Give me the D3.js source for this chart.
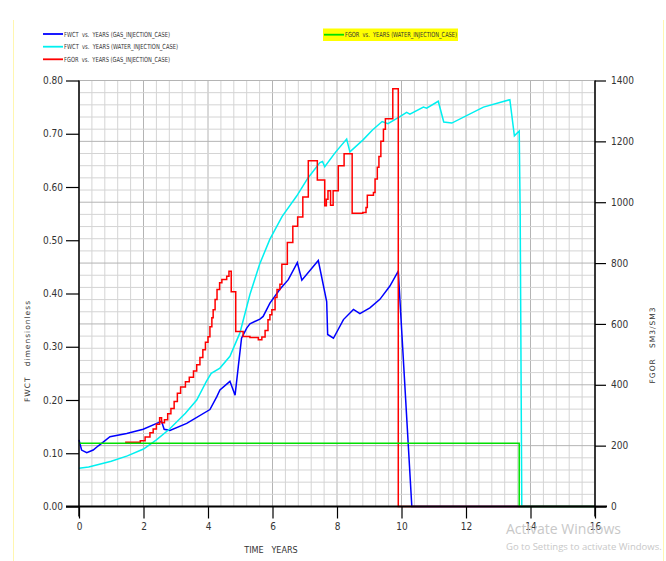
<!DOCTYPE html>
<html>
<head>
<meta charset="utf-8">
<script src="https://cdn.jsdelivr.net/npm/d3@7"></script>
<style>
  body { margin: 0; background: #ffffff; }
  svg { display: block; }
  .tick text { font-family: "Liberation Sans Narrow", "DejaVu Sans Condensed", "Liberation Sans", sans-serif; font-stretch: condensed; }
</style>
</head>
<body>
<svg width="666" height="561"></svg>
<script>
// FWCT vs years, gas injection case (left axis)
var fwctGas = [[0,0.125],[0.08,0.106],[0.24,0.101],[0.44,0.106],[0.6,0.114],[0.75,0.121],[0.96,0.131],[1.48,0.137],
  [1.99,0.145],[2.41,0.156],[2.56,0.160],[2.64,0.145],[2.82,0.143],[3.34,0.156],[4.06,0.182],[4.27,0.206],
  [4.37,0.219],[4.68,0.235],[4.84,0.209],[4.94,0.263],[5.04,0.316],[5.2,0.335],[5.3,0.343],[5.61,0.352],
  [5.71,0.357],[5.92,0.382],[6.23,0.408],[6.49,0.426],[6.77,0.458],[6.91,0.425],[7.42,0.462],[7.68,0.385],
  [7.71,0.323],[7.89,0.316],[8.2,0.351],[8.51,0.370],[8.71,0.362],[9.02,0.373],[9.33,0.389],[9.64,0.414],
  [9.9,0.442],[10.32,0],[16,0]];

// FWCT vs years, water injection case (left axis)
var fwctWater = [[0,0.072],[0.3,0.074],[1.0,0.085],[1.5,0.095],[2.0,0.108],[2.4,0.125],[2.8,0.145],
  [3.3,0.175],[3.65,0.200],[3.95,0.235],[4.1,0.250],[4.37,0.260],[4.68,0.282],[4.99,0.326],[5.3,0.398],
  [5.6,0.455],[5.92,0.502],[6.3,0.545],[6.75,0.583],[7.1,0.617],[7.47,0.646],[7.55,0.648],[7.62,0.638],
  [7.95,0.665],[8.3,0.69],[8.4,0.666],[8.8,0.688],[9.1,0.707],[9.4,0.723],[9.58,0.719],
  [9.95,0.732],[10.16,0.740],[10.26,0.737],[10.68,0.750],[10.78,0.748],[11.14,0.761],[11.31,0.722],
  [11.56,0.720],[12.54,0.750],[13.36,0.764],[13.5,0.696],[13.65,0.705],[13.68,0.55],[13.73,0],[16,0]];

// FGOR vs years, gas injection case (right axis, step data)
var fgorGas = [[1.43,211],[1.9,216],[2.05,228],[2.2,242],[2.3,255],[2.4,270],[2.5,292],[2.56,275],
  [2.65,285],[2.75,305],[2.85,322],[2.95,345],[3.05,372],[3.15,393],[3.3,410],[3.42,425],[3.55,445],
  [3.65,466],[3.75,490],[3.84,515],[3.92,540],[4.0,558],[4.06,591],[4.12,620],[4.16,647],[4.22,680],
  [4.28,713],[4.36,735],[4.43,746],[4.58,757],[4.65,773],[4.72,706],[4.86,575],[5.09,559],[5.3,555],
  [5.56,548],[5.67,557],[5.77,578],[5.86,614],[5.92,630],[5.98,647],[6.08,687],[6.14,713],[6.23,730],
  [6.29,796],[6.46,868],[6.63,921],[6.78,951],[6.94,1017],[7.11,1136],[7.39,1073],[7.62,988],[7.67,1010],
  [7.72,1038],[7.8,990],[7.88,1038],[8.04,1120],[8.22,1159],[8.47,964],[8.8,966],[8.9,983],[8.94,1023],
  [9.13,1032],[9.18,1076],[9.25,1115],[9.3,1150],[9.36,1200],[9.44,1240],[9.5,1274],[9.73,1373],
  [9.9,0],[16,0]];

// FGOR vs years, water injection case (right axis)
var fgorWater = [[0,208],[13.65,208],[13.65,0],[16,0]];

var xTicks = [0, 2, 4, 6, 8, 10, 12, 14, 16];
var leftTicks = [0, 0.1, 0.2, 0.3, 0.4, 0.5, 0.6, 0.7, 0.8];
var rightTicks = [0, 200, 400, 600, 800, 1000, 1200, 1400];

var legendNames = ["FWCT  vs.  YEARS (GAS_INJECTION_CASE)", "FWCT  vs.  YEARS (WATER_INJECTION_CASE)",
  "FGOR  vs.  YEARS (GAS_INJECTION_CASE)", "FGOR  vs.  YEARS (WATER_INJECTION_CASE)"];

var color = { blue: "#0000ff", cyan: "#00f0f0", red: "#ff0000", green: "#00e000", grid: "#d4d4d4", gridDark: "#b4b4b4" };
var narrow = "'Liberation Sans Narrow', 'DejaVu Sans Condensed', 'Liberation Sans', sans-serif";

// plot box (window.top is reserved, so no bare "top")
var padL = 79, padR = 595, padT = 80.5, padB = 506.5;

var svg = d3.select("svg");

var x = d3.scaleLinear().domain([0, 16]).range([padL, padR]);
var yL = d3.scaleLinear().domain([0, 0.8]).range([padB, padT]);
var yR = d3.scaleLinear().domain([0, 1400]).range([padB, padT]);

// faint yellow frame lines
svg.append("line").attr("x1", 13.5).attr("x2", 13.5).attr("y1", 20).attr("y2", 561)
  .attr("stroke", "#fff6b0").attr("stroke-width", 1);
svg.append("line").attr("x1", 663.5).attr("x2", 663.5).attr("y1", 20).attr("y2", 561)
  .attr("stroke", "#fff6b0").attr("stroke-width", 1);

// grid
var vGrid = d3.range(0, 41).map(function(i){ return i * 0.4; });
svg.append("g").selectAll("line").data(vGrid).enter().append("line")
  .attr("x1", function(d){ return x(d); }).attr("x2", function(d){ return x(d); })
  .attr("y1", padT).attr("y2", padB)
  .attr("stroke", function(d, i){ return i % 5 == 0 ? color.gridDark : color.grid; })
  .attr("stroke-width", 1);

var hGrid = d3.range(0, 36).map(function(i){ return i * 40; });
svg.append("g").selectAll("line").data(hGrid).enter().append("line")
  .attr("x1", padL).attr("x2", padR)
  .attr("y1", function(d){ return yR(d); }).attr("y2", function(d){ return yR(d); })
  .attr("stroke", function(d, i){ return i % 5 == 0 ? color.gridDark : color.grid; })
  .attr("stroke-width", 1);

// data lines
var lineL = d3.line().x(function(d){ return x(d[0]); }).y(function(d){ return yL(d[1]); });
var lineR = d3.line().x(function(d){ return x(d[0]); }).y(function(d){ return yR(d[1]); });
var stepR = d3.line().curve(d3.curveStepAfter).x(function(d){ return x(d[0]); }).y(function(d){ return yR(d[1]); });

svg.append("path").attr("d", lineL(fwctGas)).attr("fill", "none").attr("stroke", color.blue).attr("stroke-width", 1.5);
svg.append("path").attr("d", lineL(fwctWater)).attr("fill", "none").attr("stroke", color.cyan).attr("stroke-width", 1.5);
svg.append("path").attr("d", stepR(fgorGas)).attr("fill", "none").attr("stroke", color.red).attr("stroke-width", 1.5);
svg.append("path").attr("d", lineR(fgorWater)).attr("fill", "none").attr("stroke", color.green).attr("stroke-width", 1.5);

// axes
var gl = svg.append("g").attr("transform", "translate(" + padL + ",0)");
gl.call(d3.axisLeft(yL).tickValues(d3.range(0, 41).map(function(i){ return i * 0.02; }))
  .tickSize(6).tickFormat("").tickSizeOuter(0));
gl.call(d3.axisLeft(yL).tickValues(leftTicks).tickSize(13).tickPadding(3).tickFormat(d3.format(".2f")).tickSizeOuter(0));

var gr = svg.append("g").attr("transform", "translate(" + padR + ",0)");
gr.call(d3.axisRight(yR).tickValues(hGrid).tickSize(6).tickFormat("").tickSizeOuter(0));
gr.call(d3.axisRight(yR).tickValues(rightTicks).tickSize(11).tickPadding(5).tickFormat(d3.format("d")).tickSizeOuter(0));

var gb = svg.append("g").attr("transform", "translate(0," + padB + ")");
gb.call(d3.axisBottom(x).tickValues(vGrid).tickSize(6).tickFormat("").tickSizeOuter(0));
gb.call(d3.axisBottom(x).tickValues(xTicks).tickSize(12).tickPadding(4).tickFormat(d3.format("d")).tickSizeOuter(0));

svg.selectAll(".domain").remove();
svg.selectAll(".tick line").attr("stroke", "#000").attr("stroke-width", 1.2);
svg.selectAll(".tick text").attr("font-size", 10).attr("fill", "#333");

// axis lines
svg.append("line").attr("x1", padL).attr("x2", padL).attr("y1", padT).attr("y2", padB + 10)
  .attr("stroke", "#000").attr("stroke-width", 1.5);
svg.append("line").attr("x1", padR).attr("x2", padR).attr("y1", padT).attr("y2", padB + 10)
  .attr("stroke", "#000").attr("stroke-width", 1.5);
svg.append("line").attr("x1", 66).attr("x2", 607).attr("y1", padB).attr("y2", padB)
  .attr("stroke", "#000").attr("stroke-width", 2);

// axis titles
svg.append("text").attr("transform", "translate(30,351) rotate(-90)")
  .attr("text-anchor", "middle").attr("font-family", "'DejaVu Sans', sans-serif").attr("font-size", 7.5)
  .attr("letter-spacing", 1).attr("fill", "#333").attr("xml:space", "preserve").text("FWCT   dimensionless");
svg.append("text").attr("transform", "translate(655,345) rotate(-90)")
  .attr("text-anchor", "middle").attr("font-family", "'DejaVu Sans', sans-serif").attr("font-size", 7.5)
  .attr("letter-spacing", 1).attr("fill", "#333").attr("xml:space", "preserve").text("FGOR   SM3/SM3");
svg.append("text").attr("x", 271).attr("y", 553).attr("text-anchor", "middle")
  .attr("font-family", narrow).attr("font-size", 9).attr("fill", "#333").attr("xml:space", "preserve")
  .text("TIME   YEARS");

// legend
var legendRows = [
  { name: legendNames[0], c: color.blue, x0: 43, y0: 34, w: 106 },
  { name: legendNames[1], c: color.cyan, x0: 43, y0: 46.7, w: 114 },
  { name: legendNames[2], c: color.red, x0: 43, y0: 59.3, w: 106 },
  { name: legendNames[3], c: color.green, x0: 324, y0: 34.7, w: 112 }
];
svg.append("rect").attr("x", 323).attr("y", 28.5).attr("width", 135).attr("height", 12.5).attr("fill", "#ffff00");
legendRows.forEach(function(r){
  svg.append("line").attr("x1", r.x0).attr("x2", r.x0 + 20).attr("y1", r.y0).attr("y2", r.y0)
    .attr("stroke", r.c).attr("stroke-width", 1.8);
  svg.append("text").attr("x", r.x0 + 21).attr("y", r.y0 + 2.5)
    .attr("font-family", narrow).attr("font-size", 7).attr("fill", "#333")
    .attr("xml:space", "preserve").attr("textLength", r.w).attr("lengthAdjust", "spacingAndGlyphs")
    .text(r.name);
});

// screen watermark
svg.append("text").attr("x", 506).attr("y", 534).attr("font-family", "'Open Sans', sans-serif")
  .attr("font-size", 14).attr("fill", "#c8c8c8").text("Activate Windows");
svg.append("text").attr("x", 506).attr("y", 550).attr("font-family", "'Open Sans', sans-serif")
  .attr("font-size", 9.5).attr("fill", "#c8c8c8").text("Go to Settings to activate Windows.");
</script>
</body>
</html>
